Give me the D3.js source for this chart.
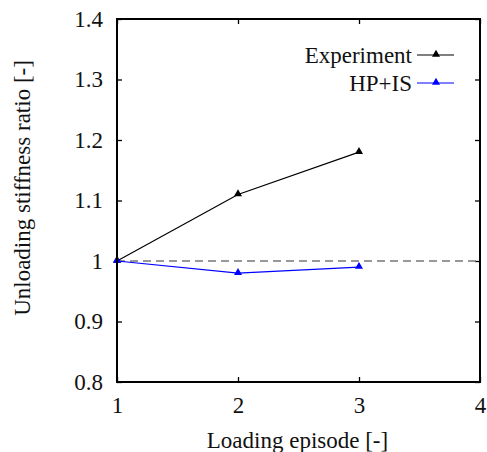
<!DOCTYPE html>
<html><head><meta charset="utf-8">
<script src="https://cdn.jsdelivr.net/npm/d3@7"></script>
<style>body{margin:0;background:#fff}svg{display:block}text{font-family:"Liberation Serif","Times New Roman",serif;fill:#111}</style>
</head><body><svg id="c" width="487" height="452"></svg>
<script>
const episodes = [1, 2, 3];
const experiment = [1.0, 1.11, 1.18];
const hpis = [1.0, 0.98, 0.99];
const xTicks = [1, 2, 3, 4];
const yTicks = [0.8, 0.9, 1.0, 1.1, 1.2, 1.3, 1.4];
const seriesNames = ["Experiment", "HP+IS"];
const seriesColors = ["#000000", "#0000ff"];

const FS = 23;
const svg = d3.select("#c");
const L = 117, R = 480, T = 19, B = 382;
const x = d3.scaleLinear().domain([1, 4]).range([L, R]);
const y = d3.scaleLinear().domain([0.8, 1.4]).range([B, T]);
const fmtY = d => (d === 1 ? "1" : d3.format(".1f")(d));

const tl = 5;
const styleAxis = g => {
  g.select(".domain").remove();
  g.attr("font-family", null).attr("font-size", null);
  g.selectAll("text").attr("font-size", FS);
  g.selectAll("line").attr("stroke", "#000").attr("stroke-width", 1.3);
};
svg.append("g").attr("transform", `translate(0,${B})`)
  .call(d3.axisBottom(x).tickValues(xTicks).tickSizeInner(-tl).tickSizeOuter(0).tickPadding(15).tickFormat(d3.format("d")))
  .call(styleAxis);
svg.append("g").attr("transform", `translate(0,${T})`)
  .call(d3.axisTop(x).tickValues(xTicks).tickSizeInner(-tl).tickSizeOuter(0).tickFormat(""))
  .call(styleAxis);
svg.append("g").attr("transform", `translate(${L},0)`)
  .call(d3.axisLeft(y).tickValues(yTicks).tickSizeInner(-tl).tickSizeOuter(0).tickPadding(14).tickFormat(fmtY))
  .call(styleAxis);
svg.append("g").attr("transform", `translate(${R},0)`)
  .call(d3.axisRight(y).tickValues(yTicks).tickSizeInner(-tl).tickSizeOuter(0).tickFormat(""))
  .call(styleAxis);

// reference dashed line
svg.append("line").attr("x1", x(1)).attr("x2", x(4)).attr("y1", y(1)).attr("y2", y(1))
  .attr("stroke", "#777").attr("stroke-width", 1.6).attr("stroke-dasharray", "8,5");

// series
const line = d3.line().x((d, i) => x(episodes[i])).y(d => y(d));
const tri = d3.symbol().type(d3.symbolTriangle).size(28);
[experiment, hpis].forEach((vals, si) => {
  svg.append("path").datum(vals).attr("d", line).attr("fill", "none")
    .attr("stroke", seriesColors[si]).attr("stroke-width", 1.2);
  svg.append("g").selectAll("path").data(vals).join("path")
    .attr("d", tri).attr("transform", (d, i) => `translate(${x(episodes[i])},${y(d) - 0.5})`)
    .attr("fill", seriesColors[si]);
});

// frame
svg.append("rect").attr("x", L).attr("y", T).attr("width", R - L).attr("height", B - T)
  .attr("fill", "none").attr("stroke", "#000").attr("stroke-width", 2);

// legend
const legY = [55, 83];
seriesNames.forEach((n, i) => {
  svg.append("text").attr("x", 412).attr("y", legY[i]).attr("dy", "0.33em")
    .attr("text-anchor", "end").attr("font-size", FS).text(n);
  svg.append("line").attr("x1", 417).attr("x2", 454).attr("y1", legY[i]).attr("y2", legY[i])
    .attr("stroke", seriesColors[i]).attr("stroke-width", 1.2);
  svg.append("path").attr("d", tri).attr("transform", `translate(436,${legY[i] - 0.5})`).attr("fill", seriesColors[i]);
});

// axis titles
svg.append("text").attr("x", (L + R) / 2 - 1).attr("y", 448).attr("text-anchor", "middle")
  .attr("font-size", FS).text("Loading episode [-]");
svg.append("text").attr("transform", `translate(30,188) rotate(-90)`).attr("text-anchor", "middle")
  .attr("font-size", FS).text("Unloading stiffness ratio [-]");
</script></body></html>
